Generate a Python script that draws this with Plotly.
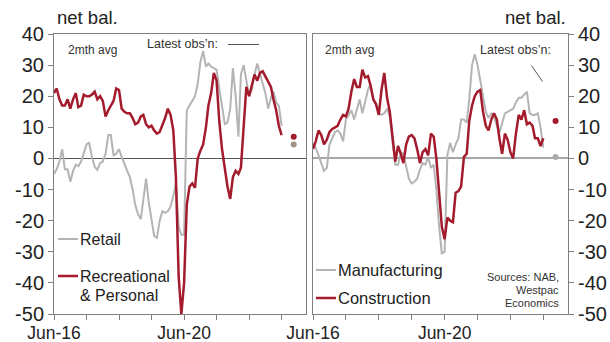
import pandas as pd
import plotly.graph_objects as go

# Monthly business conditions, net balance (2-month average), Jun-16 to Jun-23
months = pd.date_range("2016-06-01", periods=85, freq="MS")

retail = [-5, -3.5, -1, 3, -3.5, -3.5, -7.5, -4, -2, -2.5, -1, 1.5, 4.5, 5, 0.5,
          -2.7, -3.7, -1.5, -1, 1.5, 7.5, 7.5, 1, 1.5, 3, 0.5,
          -2, -4, -6, -10, -15, -18, -19.5, -13, -6.5, -14, -20, -25, -25.5, -20,
          -17, -17.5, -17, -15.5, -12, -8, -22, -24.5, -24.5,
          15.5, 17, 18.5, 20, 24, 31, 34.5, 29.5, 30.5, 29.5, 29, 28.5, 22.5, 16,
          11, 11.5, 16, 29, 20, 7, 27, 30, 25, 20, 22, 27, 30.5, 27, 24, 21, 16,
          19.5, 21.5, 18, 17, 10.5]

recreational = [21, 22.5, 19, 17, 17, 19, 16, 19, 21, 16.5, 17, 20.5, 20, 20, 20.5,
                21.5, 19, 20, 18.5, 13.5, 15.5, 17, 18.5, 22.5, 22,
                16, 15, 14.5, 14.5, 13, 11, 11.5, 13.5, 14, 11, 10, 10.5, 9, 8, 8.5,
                10.5, 13, 16, 14, 9, -6,
                -38, -50, -40, -15, -9, -8, -9.5, 0, 2.5, 4.5, 10, 17, 21, 27.5, 25,
                12, 3, -4, -9, -13, -6, -4, -5, -3, 10, 23, 20, 24, 27, 25, 27.5, 28,
                26.5, 25, 23, 19, 15.5, 10.5, 7.5]

manufacturing = [5, 3.5, 1, -1.5, -4, -3, 4.5, 6.5, 8.5, 9,
                 8, 5.5, 12.5, 14, 15.5, 12.5, 15.5, 19, 14.5, 18.5,
                 22, 24, 19, 17.5, 14.5, 14, 14.5, 16, 13.5, 5,
                 -2, -2, 2, 1.5, -3, -6.5, -8, -7.5, -6.5, -3.5,
                 -1.5, -2, 0.5, -3, -2, -10, -22, -30.5, -30, 1,
                 5, 2, 4.5, 6.5, 12.5, 12.5, 11.5, 19, 30, 33.5,
                 30, 25, 19, 15, 13, 14.5, 13.5, 10.5, 8.5, 11,
                 14.5, 15, 15.5, 16, 18, 19.5, 19.5, 20.5, 21.5, 14.5,
                 14, 14, 14.5, 10, 3.5]

construction = [3, 5.5, 9, 7.5, 4.5, 6, 8.5, 9.5, 10, 10.5,
                12.5, 14, 13.5, 16, 21.5, 25.5, 23, 23, 28.5, 26,
                26.5, 23.5, 19, 17.5, 14, 22, 27.5, 19.5, 15, 7,
                -1, 4, 1.5, -1.5, 4.5, 7, 7.5, 6.5, 3, -1.5,
                2, 3, 1, 8, 7, 0, -12, -22, -26, -19,
                -20, -20.5, -11, -10.5, -9, 0.5, 1.5, 12, 17, 20,
                21.5, 22, 15, 10.5, 9, 12.5, 14.5, 12.5, 6, 1.5,
                8, 6, 2, 0, 8, 14, 12.5, 15.5, 11, 11.5,
                10.5, 6.5, 6.5, 4, 6.5]

# Latest single-month observations
latest_date = ["2023-10-15"]
latest_retail = [4.5]
latest_recreational = [7]
latest_manufacturing = [0.5]
latest_construction = [12]

tick_dates = pd.date_range("2016-06-01", "2023-06-01", freq="12MS")
tick_text = ["Jun-16", "", "", "", "Jun-20", "", "", ""]
y_ticks = list(range(-50, 41, 10))
y_tick_text = [str(v) for v in y_ticks]  # plain hyphen for negatives

RED = "#A31B2C"
GREY = "#B4B4B4"
FRAME = "#808080"
TXT = "#222222"
FONT = "Liberation Sans, Arial, sans-serif"
W, H = 610, 342


def px(x):
    return x / W


def py(y):
    return 1 - y / H


fig = go.Figure()
fig.add_trace(go.Scatter(x=months, y=retail, mode="lines", xaxis="x", yaxis="y",
                         line=dict(color=GREY, width=2)))
fig.add_trace(go.Scatter(x=months, y=recreational, mode="lines", xaxis="x", yaxis="y",
                         line=dict(color=RED, width=2.5)))
fig.add_trace(go.Scatter(x=latest_date, y=latest_recreational, mode="markers", xaxis="x", yaxis="y",
                         marker=dict(color=RED, size=6)))
fig.add_trace(go.Scatter(x=latest_date, y=latest_retail, mode="markers", xaxis="x", yaxis="y",
                         marker=dict(color="#A39184", size=6)))

fig.add_trace(go.Scatter(x=months, y=manufacturing, mode="lines", xaxis="x2", yaxis="y2",
                         line=dict(color=GREY, width=2)))
fig.add_trace(go.Scatter(x=months, y=construction, mode="lines", xaxis="x2", yaxis="y2",
                         line=dict(color=RED, width=2.5)))
fig.add_trace(go.Scatter(x=latest_date, y=latest_construction, mode="markers", xaxis="x2", yaxis="y2",
                         marker=dict(color=RED, size=6)))
fig.add_trace(go.Scatter(x=latest_date, y=latest_manufacturing, mode="markers", xaxis="x2", yaxis="y2",
                         marker=dict(color="#AAAAAA", size=6)))

xcommon = dict(type="date", range=["2016-06-01", "2024-03-01"], tickmode="array",
               tickvals=tick_dates, ticktext=tick_text, ticks="outside", ticklen=5,
               tickcolor=FRAME, showline=True, linecolor=FRAME, linewidth=1, mirror=True,
               showgrid=False, zeroline=False, automargin=False, ticklabelstandoff=-2,
               tickfont=dict(size=17.5, color=TXT, family=FONT))
ycommon = dict(range=[-50, 40], tickmode="array", tickvals=y_ticks, ticktext=y_tick_text,
               ticks="outside", ticklen=5,
               tickcolor=FRAME, showline=True, linecolor=FRAME, linewidth=1, mirror=True,
               showgrid=False, zeroline=True, automargin=False,
               tickfont=dict(size=20, color=TXT, family=FONT))

fig.update_layout(
    width=W, height=H, margin=dict(l=0, r=0, t=0, b=0),
    paper_bgcolor="white", plot_bgcolor="white", showlegend=False,
    font=dict(family=FONT, color=TXT),
    xaxis=dict(domain=[px(54), px(306)], anchor="y", **xcommon),
    yaxis=dict(domain=[py(314), py(34)], anchor="x", zerolinecolor="#555555", zerolinewidth=1, **ycommon),
    xaxis2=dict(domain=[px(313), px(568)], anchor="y2", **xcommon),
    yaxis2=dict(domain=[py(314), py(34)], anchor="x2", side="right",
                zerolinecolor="#A6A6A6", zerolinewidth=1.5, **ycommon),
)


def note(text, x, y, size, xanchor="left", color="#333333"):
    fig.add_annotation(text=text, x=px(x), y=py(y), xref="paper", yref="paper",
                       xanchor=xanchor, yanchor="middle", showarrow=False,
                       font=dict(size=size, color=color, family=FONT))


def swatch(x0, x1, y, color, width):
    fig.add_shape(type="line", xref="paper", yref="paper", x0=px(x0), x1=px(x1),
                  y0=py(y), y1=py(y), line=dict(color=color, width=width))


# Axis unit labels
note("net bal.", 55, 18, 18.5, color=TXT)
note("net bal.", 568, 18, 18.5, xanchor="right", color=TXT)

# Left panel notes and legend
note("2mth avg", 66, 50, 12)
note("Latest obs\u2019n:", 145, 44, 12.5)
fig.add_shape(type="line", xref="paper", yref="paper", x0=px(228), x1=px(259),
              y0=py(44.5), y1=py(44.5), line=dict(color="#555555", width=1))
swatch(58, 78, 239, GREY, 2)
note("Retail", 78, 239, 16, color=TXT)
swatch(58, 78, 276, RED, 2.5)
note("Recreational", 78, 276, 16, color=TXT)
note("& Personal", 78, 295, 16, color=TXT)

# Right panel notes and legend
note("2mth avg", 323, 50, 12)
note("Latest obs\u2019n:", 553, 50, 12.5, xanchor="right")
fig.add_shape(type="line", xref="paper", yref="paper", x0=px(531.5), x1=px(542.5),
              y0=py(65.5), y1=py(81.5), line=dict(color="#555555", width=1))
swatch(316, 336, 270, GREY, 2)
note("Manufacturing", 336, 270, 16.5, color=TXT)
swatch(316, 336, 298, RED, 2.5)
note("Construction", 336, 298, 16.5, color=TXT)
note("Sources: NAB,", 561, 277, 11)
note("Westpac", 561, 290, 11)
note("Economics", 561, 303, 11)
for a in fig.layout.annotations[-3:]:
    a.xanchor = "right"

fig.write_html("out.html")
